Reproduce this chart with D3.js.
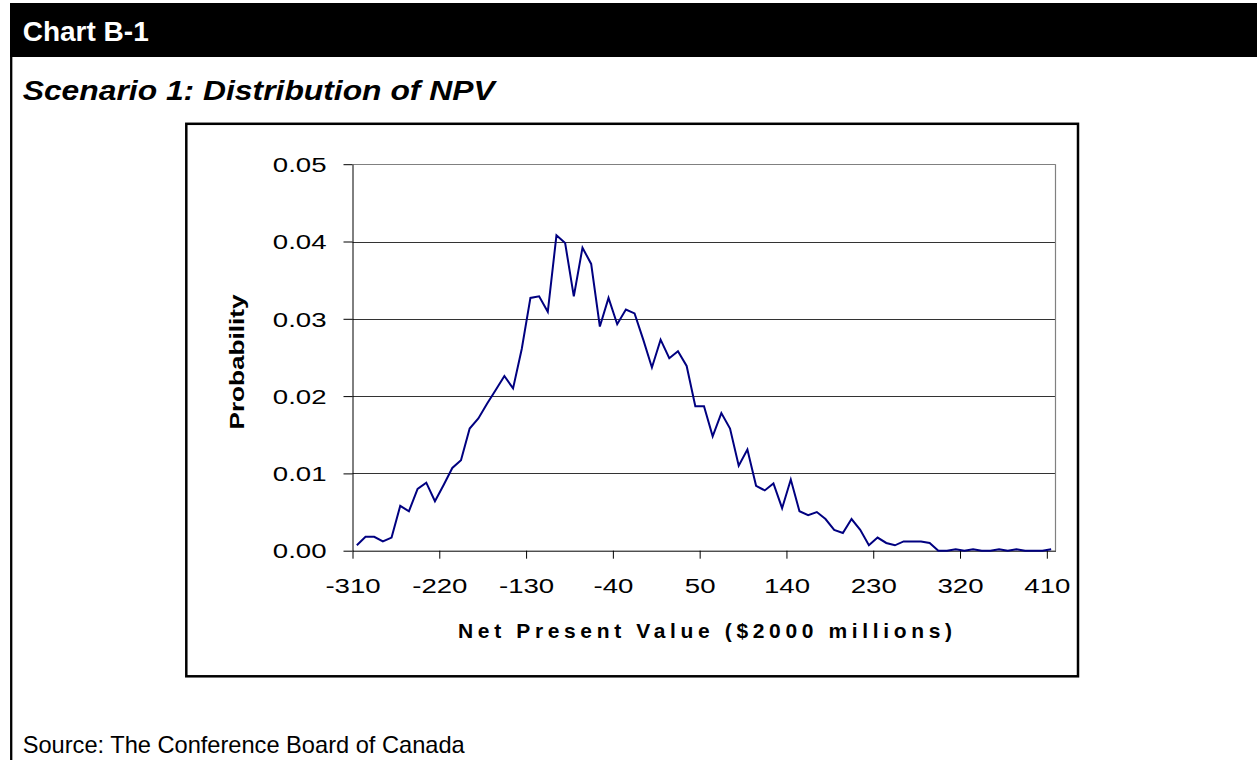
<!DOCTYPE html>
<html><head><meta charset="utf-8">
<script src="https://cdn.jsdelivr.net/npm/d3@7/dist/d3.min.js"></script>
<style>
body{margin:0;background:#fff}
svg{display:block}
text{font-family:"Liberation Sans",Arial,Helvetica,sans-serif}
</style>
</head><body>
<svg id="chart" width="1257" height="760"></svg>
<script>
// NPV bin midpoints ($2000 millions)
const npvBins = [-305.5,-296.5,-287.5,-278.5,-269.5,-260.5,-251.5,-242.5,-233.5,-224.5,
  -215.5,-206.5,-197.5,-188.5,-179.5,-170.5,-161.5,-152.5,-143.5,-134.5,
  -125.5,-116.5,-107.5,-98.5,-89.5,-80.5,-71.5,-62.5,-53.5,-44.5,
  -35.5,-26.5,-17.5,-8.5,0.5,9.5,18.5,27.5,36.5,45.5,
  54.5,63.5,72.5,81.5,90.5,99.5,108.5,117.5,126.5,135.5,
  144.5,153.5,162.5,171.5,180.5,189.5,198.5,207.5,216.5,225.5,
  234.5,243.5,252.5,261.5,270.5,279.5,288.5,297.5,306.5,315.5,
  324.5,333.5,342.5,351.5,360.5,369.5,378.5,387.5,396.5,405.5,414.5];
// Probability of each bin
const probability = [0.0007,0.0018,0.0018,0.0012,0.0017,0.0058,0.0051,0.0080,0.0088,0.0064,
  0.0085,0.0107,0.0117,0.0158,0.0171,0.0190,0.0208,0.0226,0.0210,0.0261,
  0.0327,0.0329,0.0309,0.0408,0.0398,0.0329,0.0392,0.0371,0.0290,0.0327,
  0.0293,0.0312,0.0307,0.0273,0.0237,0.0273,0.0249,0.0258,0.0239,0.0187,
  0.0187,0.0148,0.0178,0.0158,0.0110,0.0131,0.0084,0.0078,0.0087,0.0055,
  0.0092,0.0051,0.0046,0.0050,0.0041,0.0027,0.0023,0.0041,0.0027,0.0007,
  0.0017,0.0010,0.0007,0.0012,0.0012,0.0012,0.0010,0,0,0.0002,
  0,0.0002,0,0,0.0002,0,0.0002,0,0,0,0.0002];
const xTickValues = [-310,-220,-130,-40,50,140,230,320,410];
const xTickLabels = ['-310','-220','-130','-40','50','140','230','320','410'];
const yTickValues = [0,0.01,0.02,0.03,0.04,0.05];
const yTickLabels = ['0.00','0.01','0.02','0.03','0.04','0.05'];

const svg = d3.select('#chart');

function stretch(sel, f){
  sel.each(function(){
    const l = this.getComputedTextLength();
    d3.select(this).attr('textLength', l*f).attr('lengthAdjust','spacingAndGlyphs');
  });
}

// Page frame and header bar
svg.append('rect').attr('x',10).attr('y',3).attr('width',1247).attr('height',54).attr('fill','#000');
svg.append('line').attr('x1',11.2).attr('x2',11.2).attr('y1',56).attr('y2',760)
  .attr('stroke','#000').attr('stroke-width',2.3);
svg.append('text').attr('x',22.7).attr('y',41).attr('fill','#fff')
  .attr('font-size',28).attr('font-weight','bold').text('Chart B-1');
svg.append('text').attr('x',22.7).attr('y',100).attr('fill','#000')
  .attr('font-size',27).attr('font-weight','bold').attr('font-style','italic')
  .attr('textLength',472).attr('lengthAdjust','spacingAndGlyphs')
  .text('Scenario 1: Distribution of NPV');

// Chart box
svg.append('rect').attr('x',186.3).attr('y',123.8).attr('width',891.7).attr('height',552.5)
  .attr('fill','#fff').attr('stroke','#000').attr('stroke-width',2.5);

// Scales
const x = d3.scaleLinear().domain([-310, 419]).range([352.5, 1055.5]);
const y = d3.scaleLinear().domain([0, 0.05]).range([550.7, 164.2]);

// Gridlines
svg.append('g').selectAll('line').data(yTickValues.filter(v => v > 0)).join('line')
  .attr('x1', x(-310)).attr('x2', x(419))
  .attr('y1', d => Math.round(y(d)) + 0.5).attr('y2', d => Math.round(y(d)) + 0.5)
  .attr('stroke', d => d === 0.05 ? '#808080' : '#333').attr('stroke-width',1);
// Plot area right border
svg.append('line').attr('x1', Math.round(x(419))-0.5).attr('x2', Math.round(x(419))-0.5)
  .attr('y1', y(0.05)).attr('y2', y(0)).attr('stroke','#808080').attr('stroke-width',1.2);

// Y axis
const yAxis = svg.append('g').attr('transform','translate(352.5,0)')
  .call(d3.axisLeft(y).tickValues(yTickValues).tickFormat((d,i) => yTickLabels[i])
    .tickSizeInner(9).tickSizeOuter(0).tickPadding(17));
yAxis.select('.domain').attr('stroke','#000');
yAxis.selectAll('.tick line').attr('stroke','#000');
yAxis.selectAll('.tick text').attr('font-size',20).attr('font-family','"Liberation Sans",Arial,sans-serif')
  .attr('fill','#000').attr('dy','0.36em');
stretch(yAxis.selectAll('.tick text'), 1.38);

// X axis
const xAxis = svg.append('g').attr('transform','translate(0,550.7)')
  .call(d3.axisBottom(x).tickValues(xTickValues).tickFormat((d,i) => xTickLabels[i])
    .tickSizeInner(8).tickSizeOuter(0).tickPadding(20));
xAxis.select('.domain').attr('stroke','#000');
xAxis.selectAll('.tick line').attr('stroke','#000');
xAxis.selectAll('.tick text').attr('font-size',20).attr('font-family','"Liberation Sans",Arial,sans-serif')
  .attr('fill','#000').attr('dy',null).attr('y',42);
stretch(xAxis.selectAll('.tick text'), 1.38);

// Line
const pts = npvBins.map((v,i) => [v, probability[i]]);
svg.append('path').datum(pts)
  .attr('fill','none').attr('stroke','#000080').attr('stroke-width',2).attr('stroke-linejoin','miter')
  .attr('d', d3.line().x(d => x(d[0])).y(d => y(d[1])));

// Axis titles
svg.append('text').attr('transform','translate(244,362) rotate(-90)')
  .attr('text-anchor','middle').attr('font-size',21).attr('font-weight','bold')
  .attr('textLength',135).attr('lengthAdjust','spacingAndGlyphs').text('Probability');
svg.append('text').attr('x',705).attr('y',638.3)
  .attr('text-anchor','middle').attr('font-size',21).attr('font-weight','bold')
  .attr('textLength',494).attr('lengthAdjust','spacing').text('Net Present Value ($2000 millions)');

// Source
svg.append('text').attr('x',22.7).attr('y',753.3).attr('font-size',24).attr('fill','#000')
  .attr('textLength',442).attr('lengthAdjust','spacingAndGlyphs')
  .text('Source: The Conference Board of Canada');
</script>
</body></html>
